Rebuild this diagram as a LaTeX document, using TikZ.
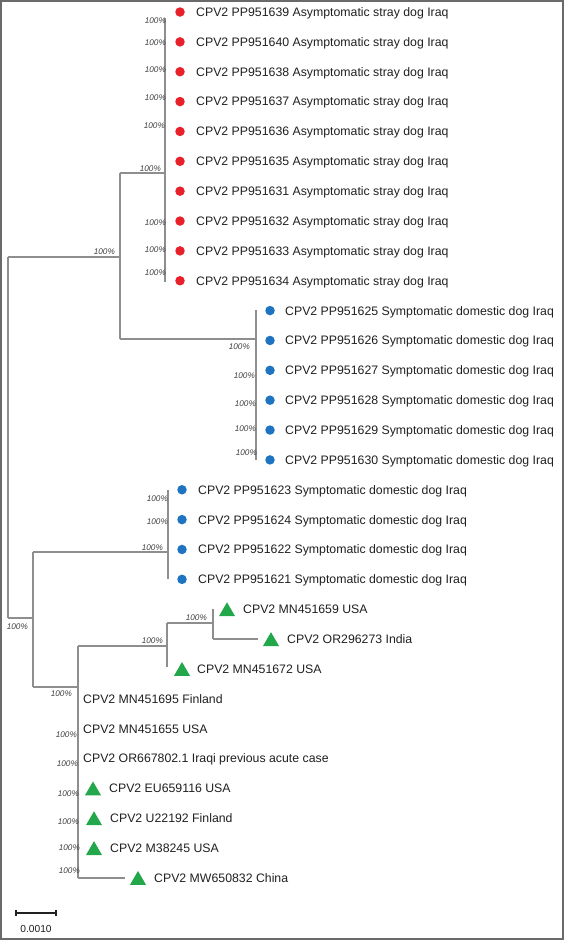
\documentclass[tikz,border=0pt]{standalone}
\usepackage{fontspec}
\setmainfont{Liberation Sans}
\usetikzlibrary{shapes.geometric}
\definecolor{framec}{HTML}{6A6A6A}
\definecolor{treec}{HTML}{8E8E8E}
\definecolor{reddot}{HTML}{E8202A}
\definecolor{bluedot}{HTML}{1F74C2}
\definecolor{greentri}{HTML}{22A84A}
\definecolor{txt}{HTML}{202020}
\definecolor{bstxt}{HTML}{404040}
\tikzset{
  branch/.style={draw=treec, line width=1.1pt},
  rdot/.style={circle, fill=reddot, minimum size=9.5pt, inner sep=0pt},
  bdot/.style={circle, fill=bluedot, minimum size=9.5pt, inner sep=0pt},
  gtri/.style={regular polygon, regular polygon sides=3, fill=greentri, minimum size=18.5pt, inner sep=0pt, yshift=-2.3pt},
  leaf/.style={anchor=base west, yshift=-4.4pt, inner sep=0pt, font=\fontsize{12.3}{14}\selectfont, text=txt},
  bs/.style={anchor=east, inner sep=0pt, font=\fontsize{8.2}{9}\selectfont\itshape, text=bstxt},
}
\begin{document}
\begin{tikzpicture}[x=1pt,y=-1pt]
\useasboundingbox (0,0) rectangle (564,940);
\fill[white] (0,0) rectangle (564,940);
\draw[framec, line width=2pt] (1,1) rectangle (563,939);

% ---------- leaves ----------
\foreach \i/\id in {0/639,1/640,2/638,3/637,4/636,5/635,6/631,7/632,8/633,9/634}{
  \node[rdot] (m\i) at (180,{12+29.86*\i}) {};
  \node[leaf] (t\i) at (196,{12+29.86*\i}) {CPV2 PP951\id\ Asymptomatic stray dog Iraq};
}
\foreach \i/\id in {10/625,11/626,12/627,13/628,14/629,15/630}{
  \node[bdot] (m\i) at (270,{12+29.86*\i}) {};
  \node[leaf] (t\i) at (285,{12+29.86*\i}) {CPV2 PP951\id\ Symptomatic domestic dog Iraq};
}
\foreach \i/\id in {16/623,17/624,18/622,19/621}{
  \node[bdot] (m\i) at (182,{12+29.86*\i}) {};
  \node[leaf] (t\i) at (198,{12+29.86*\i}) {CPV2 PP951\id\ Symptomatic domestic dog Iraq};
}
\node[gtri] (m20) at (227,609.2) {};
\node[leaf] (t20) at (243,609.2) {CPV2 MN451659 USA};
\node[gtri] (m21) at (271,639.1) {};
\node[leaf] (t21) at (287,639.1) {CPV2 OR296273 India};
\node[gtri] (m22) at (182,668.9) {};
\node[leaf] (t22) at (197,668.9) {CPV2 MN451672 USA};
\node[leaf] (t23) at (83,698.8) {CPV2 MN451695 Finland};
\node[leaf] (t24) at (83,728.6) {CPV2 MN451655 USA};
\node[leaf] (t25) at (83,758.5) {CPV2 OR667802.1 Iraqi previous acute case};
\node[gtri] (m26) at (93,788.4) {};
\node[leaf] (t26) at (109,788.4) {CPV2 EU659116 USA};
\node[gtri] (m27) at (94,818.2) {};
\node[leaf] (t27) at (110,818.2) {CPV2 U22192 Finland};
\node[gtri] (m28) at (94,848.1) {};
\node[leaf] (t28) at (110,848.1) {CPV2 M38245 USA};
\node[gtri] (m29) at (138,877.9) {};
\node[leaf] (t29) at (154,877.9) {CPV2 MW650832 China};

% ---------- tree coordinates ----------
\coordinate (rootT) at (8,257);
\coordinate (rootB) at (8,618);
\coordinate (aT) at (120,173);
\coordinate (aM) at (120,257);
\coordinate (aB) at (120,339);
\coordinate (redT) at (165,18);
\coordinate (redM) at (165,173);
\coordinate (redB) at (165,282);
\coordinate (bluT) at (256,310);
\coordinate (bluM) at (256,339);
\coordinate (bluB) at (256,460);
\coordinate (bT) at (33,552);
\coordinate (bM) at (33,618);
\coordinate (bB) at (33,687);
\coordinate (lbT) at (168,490);
\coordinate (lbM) at (168,552);
\coordinate (lbB) at (168,579);
\coordinate (cT) at (78,646);
\coordinate (cM) at (78,687);
\coordinate (cB) at (78,878);
\coordinate (dT) at (167,623);
\coordinate (dM) at (167,646);
\coordinate (dB) at (167,667);
\coordinate (eT) at (213,609);
\coordinate (eM) at (213,623);
\coordinate (eB) at (213,639);
\coordinate (fE) at (258,639);
\coordinate (gE) at (125,878);

% ---------- branches ----------
\draw[branch] (rootT) -- (rootB);
\draw[branch] (rootT) -- (aM);
\draw[branch] (aT) -- (aB);
\draw[branch] (aT) -- (redM);
\draw[branch] (redT) -- (redB);
\draw[branch] (aB) -- (bluM);
\draw[branch] (bluT) -- (bluB);
\draw[branch] (rootB) -- (bM);
\draw[branch] (bT) -- (bB);
\draw[branch] (bT) -- (lbM);
\draw[branch] (lbT) -- (lbB);
\draw[branch] (bB) -- (cM);
\draw[branch] (cT) -- (cB);
\draw[branch] (cT) -- (dM);
\draw[branch] (dT) -- (dB);
\draw[branch] (dT) -- (eM);
\draw[branch] (eT) -- (eB);
\draw[branch] (eB) -- (fE);
\draw[branch] (cB) -- (gE);

% ---------- bootstrap labels ----------
\foreach \n/\x/\y in {b1/166/21, b2/166/43, b3/166/70, b4/166/98, b5/165/126,
  b6/161/169, b7/166/223, b8/166/250, b9/166/273, b10/115/252,
  b11/250/347, b12/255/376, b13/256/404, b14/256/429, b15/257/453,
  b16/168/499, b17/168/522, b18/163/548, b19/28/627, b20/72/694,
  b21/163/641, b22/207/618, b23/77/735, b24/78/764, b25/79/794,
  b26/79/822, b27/80/848, b28/80/871}{
  \node[bs] (\n) at (\x,\y) {100\%};
}

% ---------- scale bar ----------
\coordinate (sbL) at (16,913);
\coordinate (sbR) at (56,913);
\draw[line width=1.2pt, draw=txt] (sbL) -- (sbR);
\draw[line width=1.2pt, draw=txt] ([yshift=3pt]sbL) -- ([yshift=-3pt]sbL);
\draw[line width=1.2pt, draw=txt] ([yshift=3pt]sbR) -- ([yshift=-3pt]sbR);
\node[font=\fontsize{10.2}{12}\selectfont, text=txt, inner sep=0pt] (sbt) at (36,929) {0.0010};
\end{tikzpicture}
\end{document}
